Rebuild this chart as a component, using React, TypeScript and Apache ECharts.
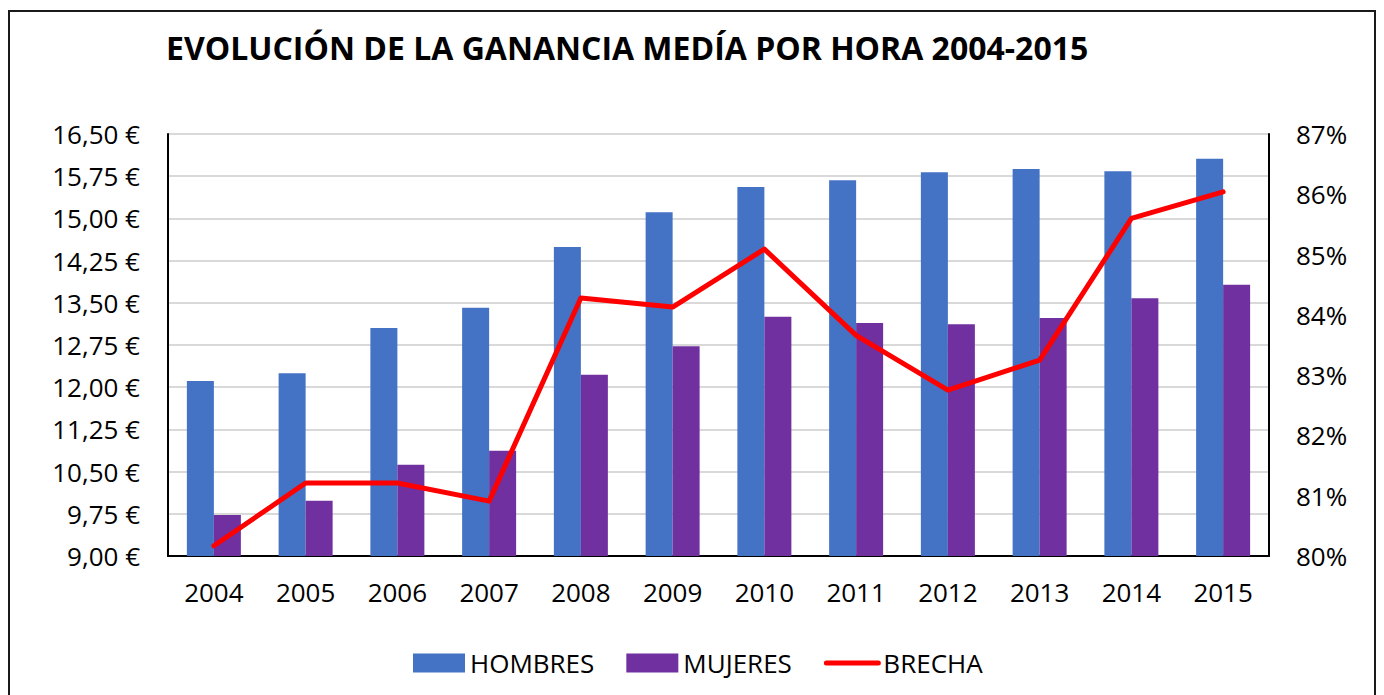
import React, { useEffect, useRef } from "react";
import * as echarts from "echarts";

const years = ["2004", "2005", "2006", "2007", "2008", "2009", "2010", "2011", "2012", "2013", "2014", "2015"];
const hombres = [12.11, 12.25, 13.05, 13.41, 14.49, 15.11, 15.56, 15.68, 15.82, 15.88, 15.84, 16.06];
const mujeres = [9.73, 9.98, 10.62, 10.87, 12.22, 12.73, 13.25, 13.14, 13.12, 13.23, 13.58, 13.82];
const brecha = [80.17, 81.21, 81.21, 80.91, 84.28, 84.13, 85.09, 83.66, 82.75, 83.25, 85.6, 86.04];

const titleText = "EVOLUCIÓN DE LA GANANCIA MEDÍA POR HORA 2004-2015";
const FONT = "'Open Sans', 'Noto Sans', sans-serif";

export default function App() {
  const ref = useRef<HTMLDivElement>(null);
  useEffect(() => {
    if (!ref.current) return;
    const chart = echarts.init(ref.current, undefined, { renderer: "svg" });
    chart.setOption({
      animation: false,
      textStyle: { fontFamily: FONT },
      title: {
        text: titleText,
        left: 151,
        top: 14,
        textStyle: { fontFamily: FONT, fontSize: 32, fontWeight: "bold", color: "#000" },
      },
      legend: {
        left: 398,
        top: 633,
        itemWidth: 52,
        itemHeight: 19,
        itemGap: 32,
        textStyle: { fontFamily: FONT, fontSize: 26, color: "#000" },
        data: [
          { name: "HOMBRES", icon: "rect" },
          { name: "MUJERES", icon: "rect" },
          { name: "BRECHA", itemStyle: { opacity: 0 }, lineStyle: { width: 5, color: "#FF0000", cap: "round" } },
        ],
      },
      grid: { left: 158, right: 105, top: 122, bottom: 156, containLabel: false },
      xAxis: {
        type: "category",
        data: years,
        axisLine: { show: true, lineStyle: { color: "#000", width: 2 } },
        axisTick: { show: false },
        axisLabel: { fontFamily: FONT, fontSize: 26, color: "#000", margin: 23 },
      },
      yAxis: [
        {
          type: "value",
          min: 9,
          max: 16.5,
          interval: 0.75,
          axisLine: { show: true, lineStyle: { color: "#000", width: 2 } },
          axisTick: { show: false },
          splitLine: { show: true, lineStyle: { color: "#d9d9d9", width: 2 } },
          axisLabel: {
            fontFamily: FONT,
            fontSize: 26,
            color: "#000",
            margin: 28,
            formatter: (v: number) => v.toFixed(2).replace(".", ",") + " €",
          },
        },
        {
          type: "value",
          min: 80,
          max: 87,
          interval: 1,
          position: "right",
          axisLine: { show: true, lineStyle: { color: "#000", width: 2 } },
          axisTick: { show: false },
          splitLine: { show: false },
          axisLabel: {
            fontFamily: FONT,
            fontSize: 26,
            color: "#000",
            margin: 27,
            formatter: (v: number) => v + "%",
          },
        },
      ],
      series: [
        {
          name: "HOMBRES",
          type: "bar",
          data: hombres,
          barWidth: 27,
          barGap: "0%",
          itemStyle: { color: "#4472C4" },
          z: 2,
        },
        {
          name: "MUJERES",
          type: "bar",
          data: mujeres,
          barWidth: 27,
          barGap: "0%",
          itemStyle: { color: "#7030A0" },
          z: 2,
        },
        {
          name: "BRECHA",
          type: "line",
          yAxisIndex: 1,
          data: brecha,
          symbol: "none",
          lineStyle: { color: "#FF0000", width: 5, cap: "round", join: "round" },
          itemStyle: { color: "#FF0000" },
          z: 5,
        },
      ],
    });
    return () => chart.dispose();
  }, []);

  return (
    <div style={{ position: "fixed", left: 0, top: 0, width: "100vw", height: "100vh", overflow: "hidden", background: "#fff" }}>
      <div
        style={{
          position: "absolute",
          left: 8,
          top: 10,
          width: 1364,
          height: 700,
          border: "2px solid #1a1a1a",
          background: "#fff",
        }}
      >
        <div ref={ref} style={{ width: 1364, height: 700 }} />
      </div>
    </div>
  );
}
